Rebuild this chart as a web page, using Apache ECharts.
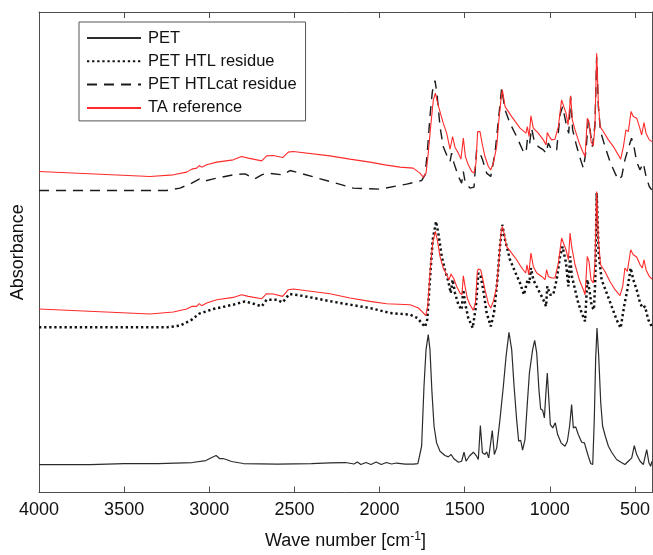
<!DOCTYPE html>
<html>
<head>
<meta charset="utf-8">
<script src="https://cdn.jsdelivr.net/npm/echarts@6/dist/echarts.min.js"></script>
<style>
html,body{margin:0;padding:0;background:#fff;}
#chart{width:653px;height:555px;}
</style>
</head>
<body>
<div id="chart"></div>
<script>
// ---- Data (wave number [cm-1], absorbance with vertical offsets as plotted) ----
const xTicks = [4000, 3500, 3000, 2500, 2000, 1500, 1000, 500];
const legendNames = ['PET', 'PET HTL residue', 'PET HTLcat residue', 'TA reference'];

const petWn = [4000,3700,3500,3300,3100,3020,2985,2960,2940,2920,2900,2870,2800,2600,2400,2291,2200,2150,2130,2110,2080,2050,2020,1990,1960,1930,1900,1850,1800,1775,1766,1753,1739,1727,1714,1704,1692,1680,1665,1645,1616,1596,1580,1563,1537,1518,1504,1492,1473,1449,1430,1420,1408,1396,1381,1371,1359,1338,1326,1312,1293,1273,1257,1240,1224,1210,1195,1183,1171,1160,1146,1132,1120,1109,1101,1089,1077,1064,1054,1042,1032,1023,1015,1007,997,983,968,954,934,911,897,884,872,862,848,833,813,797,788,774,760,748,739,731,723,713,701,690,674,656,637,627,608,582,559,539,519,504,490,470,451,431,418,408,400];
const petAbs = [0.28,0.28,0.29,0.29,0.30,0.32,0.35,0.37,0.34,0.34,0.33,0.31,0.29,0.285,0.29,0.297,0.30,0.285,0.305,0.28,0.30,0.28,0.305,0.28,0.30,0.285,0.295,0.285,0.285,0.29,0.297,0.463,1.063,1.43,1.58,1.43,0.997,0.663,0.497,0.413,0.37,0.357,0.38,0.337,0.303,0.313,0.403,0.313,0.363,0.403,0.363,0.33,0.67,0.397,0.38,0.407,0.347,0.62,0.38,0.447,0.73,1.063,1.363,1.603,1.43,1.063,0.73,0.513,0.523,0.423,0.53,0.897,1.197,1.213,1.43,1.523,1.397,1.03,0.837,0.823,0.747,0.997,1.197,0.963,0.68,0.647,0.697,0.58,0.497,0.463,0.513,0.663,0.88,0.647,0.657,0.58,0.503,0.497,0.513,0.363,0.29,0.28,0.73,1.33,1.647,1.363,0.897,0.663,0.563,0.463,0.403,0.413,0.33,0.303,0.28,0.313,0.347,0.47,0.38,0.313,0.28,0.43,0.297,0.263,0.313];

const htlWn = [4000,3250,3172,3103,3059,2976,2859,2790,2741,2692,2663,2604,2569,2530,2467,2291,2174,2056,1939,1821,1778,1753,1733,1720,1704,1688,1668,1655,1635,1616,1596,1582,1571,1557,1537,1518,1508,1498,1479,1453,1434,1420,1406,1391,1371,1347,1328,1308,1293,1279,1263,1234,1205,1175,1152,1140,1130,1120,1111,1097,1068,1038,1022,1015,999,980,960,940,925,905,891,881,870,852,833,813,793,780,768,754,741,733,725,713,696,666,637,608,584,564,545,525,510,490,470,455,441,422,402];
const htlAbs = [1.653,1.653,1.67,1.73,1.79,1.837,1.88,1.913,1.89,1.863,1.93,1.93,1.903,1.987,1.973,1.915,1.88,1.847,1.797,1.78,1.747,1.697,1.657,1.73,2.13,2.53,2.713,2.597,2.363,2.23,2.113,1.997,2.13,1.997,1.88,1.83,2.03,1.897,1.747,1.647,1.863,2.197,2.163,2.03,1.797,1.663,1.797,2.13,2.463,2.68,2.53,2.33,2.213,2.097,1.98,2.063,2.13,2.097,2.247,2.13,2.03,1.93,1.863,2.063,1.98,1.98,2.13,2.363,2.463,2.297,2.063,2.363,2.163,2.03,1.897,1.797,1.713,2.13,2.03,1.863,1.83,2.13,2.997,2.397,2.13,1.997,1.863,1.73,1.647,1.863,2.03,2.247,2.13,2.03,1.897,1.847,1.863,1.73,1.663];

const taMidWn = [4000,3348,3211,3133,3103,3074,3059,3045,3015,2956,2859,2810,2771,2692,2663,2624,2569,2536,2507,2291,2174,2056,1958,1821,1772,1743,1729,1717,1704,1688,1672,1661,1645,1626,1606,1592,1580,1573,1563,1547,1528,1516,1508,1498,1485,1469,1449,1436,1426,1420,1406,1395,1381,1361,1347,1332,1312,1297,1287,1279,1269,1254,1224,1195,1165,1142,1134,1124,1111,1097,1077,1048,1028,1019,1009,989,970,950,931,921,905,891,881,872,852,827,803,793,780,770,758,745,735,725,715,702,676,647,617,588,572,559,545,525,510,490,470,457,447,435,416,400];
const taMidAbs = [1.837,1.787,1.807,1.837,1.863,1.863,1.89,1.87,1.897,1.93,1.953,1.98,1.963,1.94,1.99,1.987,1.963,2.03,2.037,1.99,1.947,1.913,1.89,1.88,1.847,1.797,1.77,1.863,2.197,2.497,2.613,2.53,2.363,2.247,2.18,2.13,2.187,2.197,2.137,2.063,1.997,1.98,2.17,2.063,1.947,1.88,1.823,1.913,2.213,2.237,2.23,2.147,2.03,1.89,1.847,1.913,2.063,2.363,2.597,2.663,2.597,2.463,2.397,2.33,2.247,2.197,2.28,2.18,2.397,2.263,2.197,2.163,2.13,2.23,2.163,2.147,2.147,2.297,2.547,2.537,2.43,2.33,2.597,2.463,2.28,2.13,2.03,1.98,2.363,2.313,2.13,2.097,2.297,3.013,2.53,2.28,2.213,2.113,2.03,1.97,2.063,2.247,2.213,2.43,2.38,2.357,2.28,2.247,2.33,2.23,2.163,2.137];

const catWn = [4000,3250,3172,3103,3059,3035,2976,2859,2790,2732,2692,2663,2569,2526,2467,2291,2154,1997,1841,1802,1753,1733,1720,1704,1690,1674,1661,1645,1626,1602,1586,1577,1563,1537,1518,1508,1498,1469,1445,1430,1414,1395,1371,1347,1322,1302,1283,1263,1234,1195,1156,1140,1132,1120,1107,1093,1068,1038,1022,1009,989,960,940,925,901,889,878,866,842,819,803,788,774,764,750,735,725,715,702,676,647,617,598,578,559,539,520,506,490,471,451,435,416,402];
const catAbs = [3.023,3.023,3.047,3.097,3.137,3.113,3.14,3.18,3.19,3.14,3.18,3.197,3.18,3.223,3.197,3.113,3.047,3.037,3.087,3.103,3.123,3.18,3.397,3.763,4.013,4.123,3.963,3.663,3.463,3.363,3.313,3.397,3.297,3.163,3.097,3.213,3.113,3.047,3.057,3.43,3.413,3.33,3.197,3.163,3.397,3.73,4.047,3.83,3.697,3.563,3.413,3.397,3.53,3.48,3.647,3.53,3.463,3.43,3.397,3.497,3.43,3.43,3.78,3.863,3.663,3.597,3.963,3.63,3.463,3.33,3.247,3.413,3.73,3.63,3.463,3.68,4.363,3.863,3.613,3.463,3.313,3.197,3.13,3.163,3.33,3.447,3.547,3.463,3.313,3.23,3.297,3.163,3.063,3.03];

const taTopWn = [4000,3348,3211,3133,3103,3074,3059,3045,3015,2956,2859,2810,2771,2692,2663,2624,2569,2536,2507,2291,2174,2056,1968,1880,1802,1763,1743,1727,1714,1700,1684,1672,1661,1645,1626,1606,1586,1571,1557,1537,1522,1508,1496,1479,1459,1445,1434,1424,1410,1398,1381,1361,1347,1332,1312,1299,1287,1279,1263,1224,1175,1140,1132,1122,1111,1097,1068,1038,1022,1015,1003,989,970,950,931,921,905,893,885,878,868,852,827,807,793,780,768,758,745,735,725,715,705,686,656,627,598,584,568,553,539,523,510,490,474,461,447,435,416,400];
const taTopAbs = [3.213,3.163,3.18,3.207,3.237,3.247,3.273,3.257,3.28,3.307,3.33,3.363,3.347,3.32,3.37,3.373,3.353,3.407,3.413,3.37,3.337,3.307,3.28,3.257,3.247,3.197,3.157,3.197,3.397,3.663,3.93,3.997,3.913,3.813,3.697,3.597,3.437,3.563,3.457,3.397,3.337,3.547,3.363,3.28,3.213,3.197,3.297,3.613,3.613,3.497,3.363,3.263,3.23,3.297,3.463,3.73,3.93,4.03,3.863,3.763,3.647,3.597,3.663,3.563,3.77,3.647,3.597,3.53,3.48,3.603,3.563,3.53,3.537,3.663,3.93,3.93,3.797,3.68,3.83,3.97,3.73,3.63,3.497,3.413,3.363,3.747,3.697,3.513,3.47,3.663,4.397,3.897,3.663,3.613,3.53,3.463,3.38,3.337,3.463,3.63,3.613,3.813,3.763,3.747,3.663,3.58,3.703,3.597,3.53,3.513];

function pairs(xs, ys) { return xs.map((x, i) => [x, ys[i]]); }

const FONT = 'Arial, "Liberation Sans", Helvetica, sans-serif';
const AXIS_COLOR = '#4d4d4d';
const RED = '#ff2a2a';

const chart = echarts.init(document.getElementById('chart'), null, { renderer: 'canvas' });
chart.setOption({
  animation: false,
  backgroundColor: '#ffffff',
  textStyle: { fontFamily: FONT },
  grid: { left: 39, right: 1, top: 12, bottom: 62, containLabel: false },
  legend: {
    orient: 'vertical',
    left: 79, top: 22,
    data: legendNames,
    backgroundColor: '#ffffff',
    borderColor: '#555',
    borderWidth: 1,
    borderRadius: 0,
    padding: [6, 9, 3, 7],
    itemWidth: 54, itemHeight: 20, itemGap: 3.3,
    itemStyle: { opacity: 0 },
    textStyle: { fontSize: 16.5, lineHeight: 20, height: 20, color: '#111', fontFamily: FONT, padding: [0, 0, 0, 2] },
    selectedMode: false
  },
  xAxis: [
    {
      type: 'value', position: 'bottom', inverse: true, min: 400, max: 4000,
      axisLine: { show: true, onZero: false, lineStyle: { color: AXIS_COLOR, width: 1 } },
      axisTick: { show: true, inside: true, length: 6, customValues: xTicks, lineStyle: { color: AXIS_COLOR } },
      axisLabel: { show: true, customValues: xTicks, formatter: (v) => String(v), fontSize: 18, color: '#111', margin: 9, fontFamily: FONT },
      splitLine: { show: false },
      name: '{a|Wave number [cm}{s|-1}{a|]}',
      nameLocation: 'middle', nameGap: 38,
      nameTextStyle: {
        rich: {
          a: { fontSize: 18, color: '#111', fontFamily: FONT },
          s: { fontSize: 12, color: '#111', fontFamily: FONT, verticalAlign: 'top', padding: [0, 0, 9, 0] }
        }
      }
    },
    {
      type: 'value', position: 'top', inverse: true, min: 400, max: 4000,
      axisLine: { show: true, onZero: false, lineStyle: { color: AXIS_COLOR, width: 1 } },
      axisTick: { show: true, inside: true, length: 6, customValues: xTicks, lineStyle: { color: AXIS_COLOR } },
      axisLabel: { show: false },
      splitLine: { show: false }
    }
  ],
  yAxis: [
    {
      type: 'value', position: 'left', min: 0, max: 4.81,
      axisLine: { show: true, onZero: false, lineStyle: { color: AXIS_COLOR, width: 1 } },
      axisTick: { show: false }, axisLabel: { show: false }, splitLine: { show: false },
      name: 'Absorbance', nameLocation: 'middle', nameGap: 12, nameRotate: 90,
      nameTextStyle: { fontSize: 18, color: '#111', fontFamily: FONT }
    },
    {
      type: 'value', position: 'right', min: 0, max: 4.81,
      axisLine: { show: true, onZero: false, lineStyle: { color: AXIS_COLOR, width: 1 } },
      axisTick: { show: false }, axisLabel: { show: false }, splitLine: { show: false }
    }
  ],
  series: [
    {
      name: 'PET', type: 'line', xAxisIndex: 0, yAxisIndex: 0,
      data: pairs(petWn, petAbs), symbol: 'none', showSymbol: false,
      lineStyle: { color: '#2b2b2b', width: 1.2 }, itemStyle: { color: '#2b2b2b' }
    },
    {
      name: 'PET HTL residue', type: 'line', xAxisIndex: 0, yAxisIndex: 0,
      data: pairs(htlWn, htlAbs), symbol: 'none', showSymbol: false,
      lineStyle: { color: '#111', width: 2.5, type: [2.3, 2.8], cap: 'butt' }, itemStyle: { color: '#111' }
    },
    {
      name: 'PET HTLcat residue', type: 'line', xAxisIndex: 0, yAxisIndex: 0,
      data: pairs(catWn, catAbs), symbol: 'none', showSymbol: false,
      lineStyle: { color: '#1a1a1a', width: 1.4, type: [10, 7] }, itemStyle: { color: '#1a1a1a' }
    },
    {
      name: 'TA reference', type: 'line', xAxisIndex: 0, yAxisIndex: 0,
      data: pairs(taTopWn, taTopAbs), symbol: 'none', showSymbol: false,
      lineStyle: { color: RED, width: 1.1 }, itemStyle: { color: RED }
    },
    {
      name: 'TA reference', type: 'line', xAxisIndex: 0, yAxisIndex: 0,
      data: pairs(taMidWn, taMidAbs), symbol: 'none', showSymbol: false,
      lineStyle: { color: RED, width: 1.1 }, itemStyle: { color: RED }
    }
  ]
});
</script>
</body>
</html>
